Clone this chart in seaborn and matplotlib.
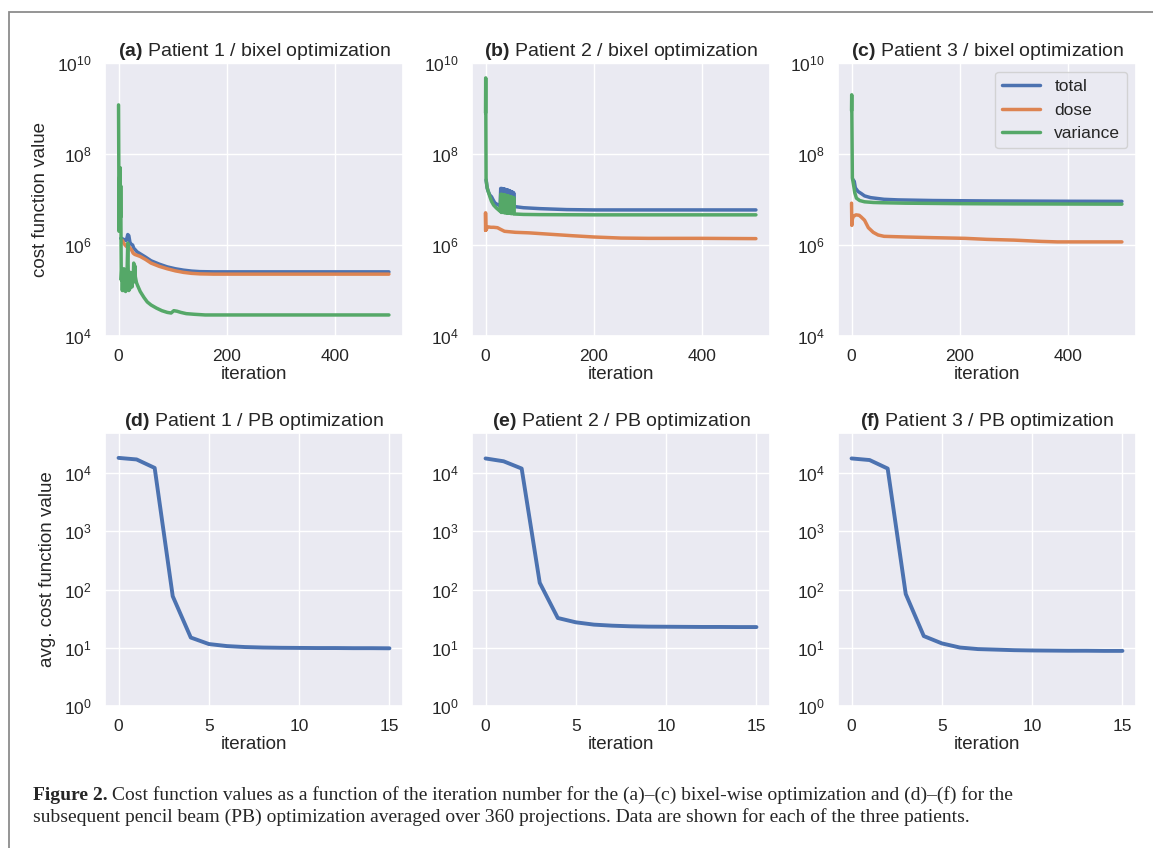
import matplotlib
matplotlib.use("Agg")
import matplotlib.pyplot as plt
import seaborn as sns
from matplotlib.patches import Rectangle

# ---------------- data ----------------
# (a) Patient 1 / bixel optimization
a_total_it = [4, 6, 8, 10, 12, 14, 16, 17, 19, 21, 23, 26, 28, 31, 34, 40, 50, 60, 75, 90, 105, 120, 135, 150, 175, 200, 300, 400, 499]
a_total = [1.4e6, 1.4e6, 1.35e6, 1.32e6, 1.28e6, 1.25e6, 1.5e6, 1.7e6, 1.6e6, 1.15e6, 1.05e6, 1.0e6, 8.5e5, 7.8e5,
           7.1e5, 6.4e5, 5.4e5, 4.5e5, 3.8e5, 3.3e5, 3.0e5, 2.8e5, 2.67e5, 2.6e5, 2.57e5, 2.57e5, 2.57e5, 2.57e5, 2.57e5]
a_dose_it = [7, 9, 12, 15, 18, 21, 24, 27, 30, 35, 40, 50, 60, 75, 90, 105, 120, 135, 150, 175, 200, 300, 400, 499]
a_dose = [1.26e6, 1.12e6, 1.0e6, 9.2e5, 9.6e5, 8.6e5, 7.8e5, 6.6e5, 6.2e5, 5.9e5, 5.6e5, 4.8e5, 4.0e5, 3.4e5,
          3.0e5, 2.7e5, 2.5e5, 2.38e5, 2.32e5, 2.29e5, 2.29e5, 2.29e5, 2.29e5, 2.29e5]
a_var_it = [0, 1, 2, 3, 3.5, 4, 5, 6, 7, 8, 9, 10, 11, 12, 13, 14, 15, 16, 17, 18, 19, 20, 21, 22, 23, 24, 25, 26,
            27, 28, 29, 30, 31, 33, 35, 40, 47, 53, 60, 70, 80, 90, 97, 102, 108, 115, 125, 140, 160, 200, 300, 400, 499]
a_var = [1.2e9, 2e6, 3e7, 5e7, 4e6, 2e7, 1.7e5, 3e5, 1.0e5, 2.5e5, 1.0e5, 3e5, 1.5e5, 2.2e5, 9.5e4, 2e5, 1.2e5,
         3.5e5, 1.1e6, 2e5, 1.0e5, 1.8e5, 1.1e5, 2.5e5, 1.3e5, 1.8e5, 1.2e5, 2e5, 1.5e5, 4e5, 2e5, 3.5e5, 2e5,
         1.5e5, 1.3e5, 9.5e4, 7e4, 5.6e4, 4.8e4, 4.1e4, 3.6e4, 3.3e4, 3.2e4, 3.6e4, 3.5e4, 3.3e4, 3.1e4, 3.0e4,
         2.9e4, 2.9e4, 2.9e4, 2.9e4, 2.9e4]

# (b) Patient 2 / bixel optimization
b_total_it = [1, 3, 5, 8, 11, 14, 17, 20, 24, 27,
              28, 29, 30, 31, 32, 33, 34, 35, 36, 37, 38, 39, 40, 41, 42, 43, 44, 45, 46, 47, 48, 49, 50, 51, 52,
              53, 70, 100, 150, 200, 300, 400, 499]
b_total = [2.7e7, 1.8e7, 1.5e7, 1.25e7, 1.15e7, 9.8e6, 8.5e6, 8.0e6, 7.5e6, 7.3e6,
           1.75e7, 7.5e6, 1.75e7, 7.5e6, 1.72e7, 7.5e6, 1.7e7, 7.4e6, 1.68e7, 7.4e6, 1.65e7, 7.4e6, 1.62e7,
           7.3e6, 1.6e7, 7.3e6, 1.56e7, 7.3e6, 1.52e7, 7.2e6, 1.48e7, 7.2e6, 1.45e7, 7.2e6, 1.4e7,
           7.0e6, 6.6e6, 6.3e6, 6.0e6, 5.9e6, 5.9e6, 5.9e6, 5.9e6]
b_dose_it = [0, 0, 0.5, 2, 5, 10, 15, 22, 28, 35, 45, 55, 80, 120, 160, 200, 250, 300, 400, 499]
b_dose = [2.1e6, 5.1e6, 2.1e6, 2.3e6, 2.5e6, 2.45e6, 2.45e6, 2.4e6, 2.2e6, 2.0e6, 1.95e6, 1.9e6, 1.85e6,
          1.72e6, 1.6e6, 1.5e6, 1.42e6, 1.4e6, 1.4e6, 1.38e6]
b_var_it = [0, 0.3, 1, 3, 5, 8, 11, 15, 20, 24, 27,
            28, 29, 30, 31, 32, 33, 34, 35, 36, 37, 38, 39, 40, 41, 42, 43, 44, 45, 46, 47, 48, 49, 50, 51, 52,
            53, 70, 100, 200, 300, 400, 499]
b_var = [8e8, 4.7e9, 2.7e7, 1.8e7, 1.5e7, 1.15e7, 9.1e6, 7.5e6, 6.5e6, 5.9e6, 5.5e6,
         1.3e7, 5.2e6, 1.3e7, 5.2e6, 1.28e7, 5.2e6, 1.27e7, 5.1e6, 1.25e7, 5.1e6, 1.23e7, 5.1e6, 1.21e7,
         5.0e6, 1.19e7, 5.0e6, 1.17e7, 5.0e6, 1.15e7, 4.9e6, 1.13e7, 4.9e6, 1.11e7, 4.9e6, 1.1e7,
         4.8e6, 4.7e6, 4.65e6, 4.6e6, 4.6e6, 4.6e6, 4.6e6]

# (c) Patient 3 / bixel optimization
c_total_it = [2, 5, 7, 12, 18, 24, 35, 43, 60, 86, 150, 250, 400, 499]
c_total = [2.8e7, 2.5e7, 1.8e7, 1.5e7, 1.35e7, 1.2e7, 1.1e7, 1.07e7, 1.01e7, 9.8e6, 9.5e6, 9.3e6, 9.15e6, 9.1e6]
c_dose_it = [0, 0.5, 1, 3, 8, 14, 18, 24, 31, 40, 49, 60, 100, 150, 210, 250, 300, 350, 380, 400, 499]
c_dose = [8.3e6, 2.7e6, 3.5e6, 4.2e6, 4.6e6, 4.5e6, 4.1e6, 3.5e6, 2.4e6, 1.9e6, 1.66e6, 1.55e6, 1.5e6, 1.45e6,
          1.4e6, 1.33e6, 1.28e6, 1.2e6, 1.17e6, 1.17e6, 1.17e6]
c_var_it = [0, 0.3, 1.5, 4, 6, 9, 15, 24, 40, 55, 100, 200, 300, 499]
c_var = [9e8, 2e9, 3e7, 2e7, 1.4e7, 1.07e7, 9.5e6, 8.9e6, 8.6e6, 8.5e6, 8.3e6, 8.1e6, 8.0e6, 7.9e6]

# (d)-(f) PB optimization, averaged cost
pb_it = [0, 1, 2, 3, 4, 5, 6, 7, 8, 9, 10, 11, 12, 13, 14, 15]
d_vals = [1.83e4, 1.72e4, 1.23e4, 77, 15, 11.6, 10.7, 10.3, 10.1, 10.0, 9.95, 9.9, 9.9, 9.85, 9.85, 9.8]
e_vals = [1.79e4, 1.6e4, 1.2e4, 131, 32.5, 27.4, 25, 24, 23.4, 23.1, 23.0, 22.9, 22.8, 22.8, 22.7, 22.7]
f_vals = [1.79e4, 1.68e4, 1.2e4, 84, 15.9, 11.9, 10.1, 9.5, 9.3, 9.1, 9.0, 8.95, 8.9, 8.9, 8.85, 8.85]

titles_top = ["(a)", "(b)", "(c)"]
titles_bot = ["(d)", "(e)", "(f)"]
series_names = ["total", "dose", "variance"]

# ---------------- style ----------------
sns.set_theme(style="darkgrid", palette="deep")
plt.rcParams["font.family"] = ["Liberation Sans", "DejaVu Sans"]
plt.rcParams["mathtext.fontset"] = "custom"
plt.rcParams["mathtext.rm"] = "Liberation Sans"
plt.rcParams["mathtext.bf"] = "Liberation Sans:bold"
plt.rcParams["mathtext.it"] = "Liberation Sans:italic"
pal = sns.color_palette("deep")
c_blue, c_orange, c_green = pal[0], pal[1], pal[2]

W, H = 1153, 848
fig = plt.figure(figsize=(W / 100, H / 100), dpi=100)
fig.patch.set_facecolor("white")

FS_TICK = 12.5
FS_LAB = 13.5
FS_TITLE = 14
lefts = [105, 472, 838]
ax_w = 298
ax_h = 273

def rect(left_px, bottom_px):
    return [left_px / W, 1 - bottom_px / H, ax_w / W, ax_h / H]

top_data = [
    (a_total_it, a_total, a_dose_it, a_dose, a_var_it, a_var),
    (b_total_it, b_total, b_dose_it, b_dose, b_var_it, b_var),
    (c_total_it, c_total, c_dose_it, c_dose, c_var_it, c_var),
]
top_sub = ["Patient 1 / bixel optimization", "Patient 2 / bixel optimization", "Patient 3 / bixel optimization"]
bot_sub = ["Patient 1 / PB optimization", "Patient 2 / PB optimization", "Patient 3 / PB optimization"]

for i, (tx, ty, dx, dy, vx, vy) in enumerate(top_data):
    ax = fig.add_axes(rect(lefts[i], 336))
    leg = (i == 2)
    sns.lineplot(x=tx, y=ty, ax=ax, color=c_blue, linewidth=2.5, estimator=None, sort=False,
                 label=series_names[0] if leg else None, legend=leg)
    sns.lineplot(x=dx, y=dy, ax=ax, color=c_orange, linewidth=2.5, estimator=None, sort=False,
                 label=series_names[1] if leg else None, legend=leg)
    sns.lineplot(x=vx, y=vy, ax=ax, color=c_green, linewidth=2.5, estimator=None, sort=False,
                 label=series_names[2] if leg else None, legend=leg)
    ax.set_yscale("log")
    ax.set_ylim(1e4, 1e10)
    ax.set_yticks([1e4, 1e6, 1e8, 1e10])
    ax.minorticks_off()
    ax.set_xlim(-25, 525)
    ax.set_xticks([0, 200, 400])
    ax.tick_params(labelsize=FS_TICK)
    ax.set_xlabel("iteration", fontsize=FS_LAB, labelpad=1)
    ax.set_ylabel("cost function value" if i == 0 else "", fontsize=FS_LAB, labelpad=6)
    ax.set_title(r"$\bf{" + titles_top[i] + "}$ " + top_sub[i], fontsize=FS_TITLE, pad=5)
    if leg:
        lg = ax.legend(loc="upper right", fontsize=12.5, handlelength=2.2, borderaxespad=0.5)
        for l in lg.get_lines():
            l.set_linewidth(2.5)

for i, vals in enumerate([d_vals, e_vals, f_vals]):
    ax = fig.add_axes(rect(lefts[i], 706))
    sns.lineplot(x=pb_it, y=vals, ax=ax, color=c_blue, linewidth=2.8, estimator=None, sort=False)
    ax.set_yscale("log")
    ax.set_ylim(1, 10 ** 4.69)
    ax.set_yticks([1, 10, 100, 1e3, 1e4])
    ax.minorticks_off()
    ax.set_xlim(-0.75, 15.75)
    ax.set_xticks([0, 5, 10, 15])
    ax.tick_params(labelsize=FS_TICK)
    ax.set_xlabel("iteration", fontsize=FS_LAB, labelpad=1)
    ax.set_ylabel("avg. cost function value" if i == 0 else "", fontsize=FS_LAB, labelpad=6)
    ax.set_title(r"$\bf{" + titles_bot[i] + "}$ " + bot_sub[i], fontsize=FS_TITLE, pad=5)

# frame around figure
fig.add_artist(Rectangle((9 / W, -0.05), 1.2, 1 - 12 / H + 0.05, transform=fig.transFigure,
                         fill=False, edgecolor="#8c8c8c", linewidth=1.3))

# caption
cap_fam = ["Liberation Serif", "DejaVu Serif"]
cap_size = 14.0
x0 = 33 / W
y1 = 1 - 800 / H
y2 = 1 - 822 / H
t_bold = fig.text(x0, y1, "Figure 2.", fontsize=cap_size, fontweight="bold", family=cap_fam, va="baseline")
fig.canvas.draw()
r = fig.canvas.get_renderer()
bb = t_bold.get_window_extent(r)
x_rest = (bb.x1 + 4) / W
fig.text(x_rest, y1, "Cost function values as a function of the iteration number for the (a)\u2013(c) bixel-wise "
         "optimization and (d)\u2013(f) for the", fontsize=cap_size, family=cap_fam, va="baseline")
fig.text(x0, y2, "subsequent pencil beam (PB) optimization averaged over 360 projections. Data are shown for "
         "each of the three patients.", fontsize=cap_size, family=cap_fam, va="baseline")

fig.savefig("out.png", dpi=100)
